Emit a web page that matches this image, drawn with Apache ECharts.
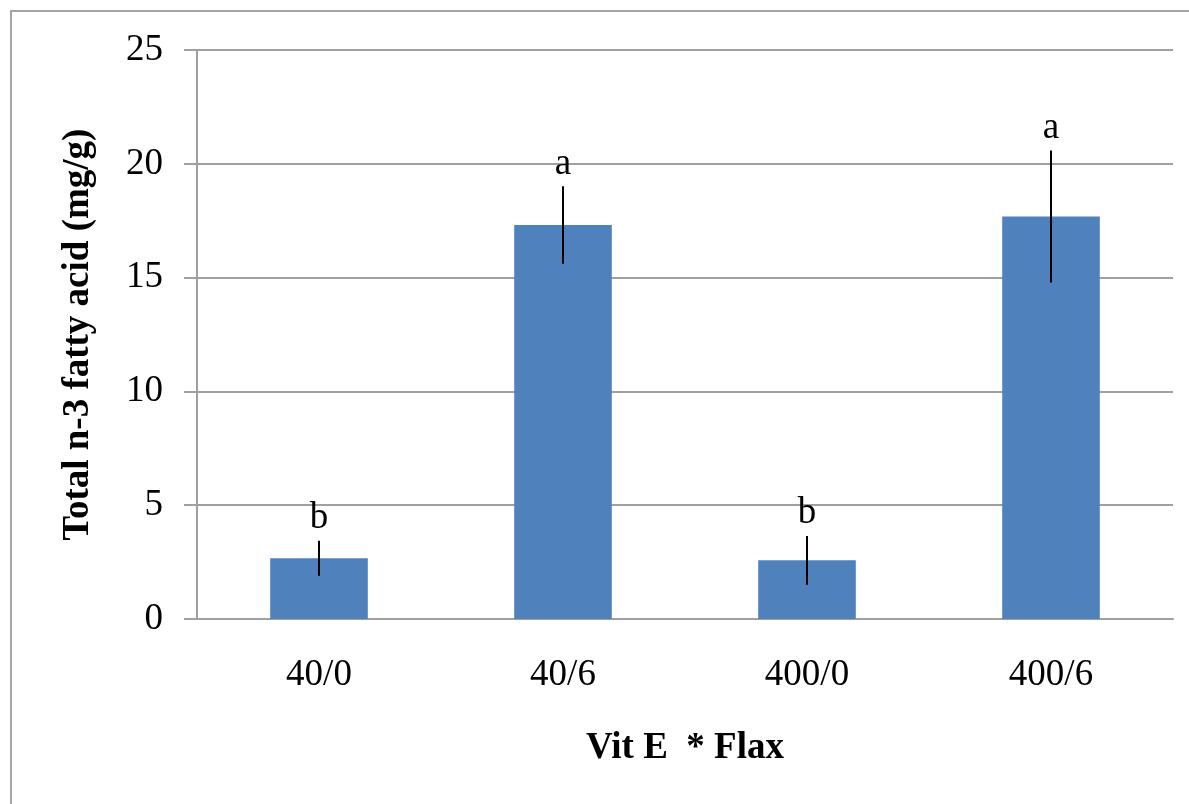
<!DOCTYPE html>
<html>
<head>
<meta charset="utf-8">
<script src="https://cdn.jsdelivr.net/npm/echarts@6/dist/echarts.min.js"></script>
<style>html,body{margin:0;padding:0;background:#fff}#c{width:1189px;height:804px}</style>
</head>
<body>
<div id="c"></div>
<script>
const categories = ['40/0', '40/6', '400/0', '400/6'];
const means = [2.67, 17.31, 2.58, 17.68];
const errors = [0.77, 1.70, 1.07, 2.90];
const letters = ['b', 'a', 'b', 'a'];
const yTicks = { min: 0, max: 25, interval: 5 };

const FONT = '"Liberation Serif", "Times New Roman", serif';
const chart = echarts.init(document.getElementById('c'), null, { renderer: 'canvas' });

const errData = categories.map((c, i) => [i, means[i] - errors[i], means[i] + errors[i], letters[i]]);

chart.setOption({
  animation: false,
  backgroundColor: '#fff',
  graphic: [{
    type: 'rect', silent: true,
    shape: { x: 11, y: 11, width: 1250, height: 850 },
    style: { fill: 'none', stroke: '#a6a6a6', lineWidth: 2 }
  }],
  grid: { left: 197, right: 16, top: 50, bottom: 185, containLabel: false },
  xAxis: {
    type: 'category',
    data: categories,
    name: 'Vit E  * Flax',
    nameLocation: 'middle',
    nameGap: 111,
    nameTextStyle: { fontFamily: FONT, fontSize: 37, fontWeight: 'bold', color: '#000' },
    axisLine: { lineStyle: { color: '#a0a0a0', width: 2 } },
    axisTick: { show: false },
    axisLabel: { fontFamily: FONT, fontSize: 37, color: '#000', margin: 38 }
  },
  yAxis: {
    type: 'value',
    min: yTicks.min, max: yTicks.max, interval: yTicks.interval,
    name: 'Total n-3 fatty acid (mg/g)',
    nameLocation: 'middle',
    nameGap: 100,
    nameTextStyle: { fontFamily: FONT, fontSize: 37, fontWeight: 'bold', color: '#000' },
    axisLine: { show: true, lineStyle: { color: '#a0a0a0', width: 2 } },
    axisTick: { show: true, length: 13, lineStyle: { color: '#a0a0a0', width: 2 } },
    splitLine: { lineStyle: { color: '#a0a0a0', width: 2 } },
    axisLabel: { fontFamily: FONT, fontSize: 37, color: '#000', margin: 34 }
  },
  series: [{
    type: 'bar',
    data: means,
    barWidth: '40%',
    itemStyle: { color: '#4f81bd' },
    z: 2
  }, {
    type: 'custom',
    data: errData,
    z: 3,
    renderItem: function (params, api) {
      const x = api.coord([api.value(0), api.value(1)])[0];
      const yLow = api.coord([api.value(0), api.value(1)])[1];
      const yHigh = api.coord([api.value(0), api.value(2)])[1];
      return {
        type: 'group',
        children: [{
          type: 'line',
          shape: { x1: x, y1: yLow, x2: x, y2: yHigh },
          style: { stroke: '#000', lineWidth: 2 }
        }, {
          type: 'text',
          style: {
            x: x, y: yHigh - 4,
            text: letters[params.dataIndex],
            fill: '#000',
            font: '37px ' + FONT,
            align: 'center',
            verticalAlign: 'bottom'
          }
        }]
      };
    }
  }]
});
</script>
</body>
</html>
